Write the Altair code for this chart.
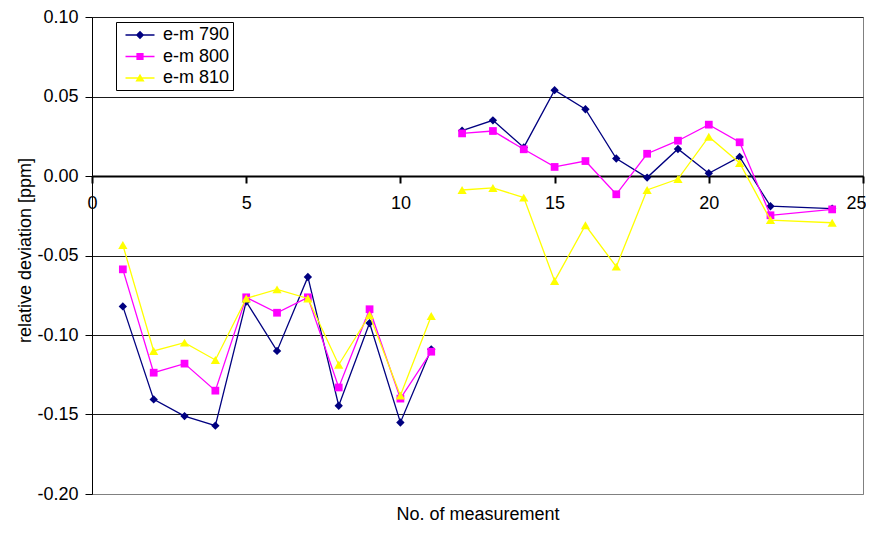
import altair as alt
import pandas as pd

# ---- data ----
measurement = [1, 2, 3, 4, 5, 6, 7, 8, 9, 10, 11, 12, 13, 14, 15, 16, 17, 18, 19, 20, 21, 22, 24]
em790 = [-0.082, -0.1405, -0.151, -0.157, -0.079, -0.110, -0.0635, -0.1445, -0.0925, -0.155, -0.109,
         0.0285, 0.035, 0.018, 0.054, 0.042, 0.011, -0.001, 0.017, 0.0017, 0.012, -0.019, -0.0205]
em800 = [-0.0587, -0.1237, -0.118, -0.135, -0.0763, -0.086, -0.0763, -0.133, -0.0838, -0.140, -0.1105,
         0.0268, 0.0283, 0.0168, 0.0057, 0.0094, -0.0115, 0.014, 0.0222, 0.0323, 0.0212, -0.0247, -0.021]
em810 = [-0.0434, -0.110, -0.1048, -0.1157, -0.077, -0.0713, -0.077, -0.1187, -0.0874, -0.138, -0.088,
         -0.0088, -0.0075, -0.0136, -0.066, -0.031, -0.057, -0.0088, -0.0019, 0.0247, 0.0082, -0.0277, -0.0294]
series_names = ["e-m 790", "e-m 800", "e-m 810"]
series_values = [em790, em800, em810]
series_colors = ["#000080", "#FF00FF", "#FFFF00"]
series_shapes = ["diamond", "square", "triangle-up"]
series_sizes = [70, 60, 85]
x_ticks = [0, 5, 10, 15, 20, 25]
y_ticks = [-0.2, -0.15, -0.1, -0.05, 0.0, 0.05, 0.1]

rows = []
for name, vals in zip(series_names, series_values):
    for m, v in zip(measurement, vals):
        rows.append({"series": name, "measurement": m, "value": v,
                     "segment": 1 if m <= 11 else 2})
df = pd.DataFrame(rows)

FONT = "Liberation Sans"
FS = 18
W, H = 771, 477

x_axis = alt.Axis(values=x_ticks, format="d", offset=-318, domainColor="black", domainWidth=2,
                  tickColor="black", tickWidth=2, tickSize=7, labelPadding=11, labelFlush=False,
                  labelAlign={"condition": {"test": "datum.value >= 25", "value": "right"},
                              "value": "center"},
                  labelOffset={"condition": {"test": "datum.value >= 25", "value": 3},
                               "value": 0},
                  labelFont=FONT, labelFontSize=FS, labelColor="black", grid=False,
                  title="No. of measurement", titleFont=FONT, titleFontSize=FS,
                  titleFontWeight="normal", titleColor="black", titleY=338,
                  titleBaseline="middle")
y_axis = alt.Axis(values=y_ticks, labelExpr="replace(format(datum.value, '.2f'), '\u2212', '-')",
                  domainColor="black", domainWidth=1, tickColor="black", tickSize=7,
                  labelPadding=7, labelFont=FONT, labelFontSize=FS, labelColor="black",
                  grid=True,
                  gridColor={"condition": {"test": "abs(datum.value) > 0.15", "value": "#808080"},
                             "value": "#1a1a1a"},
                  gridWidth=1,
                  title="relative deviation [ppm]", titleFont=FONT, titleFontSize=FS,
                  titleFontWeight="normal", titleColor="black", titleX=-67, titleY=233,
                  titleAlign="center", titleBaseline="middle", titleAngle=270)

x_enc = alt.X("measurement:Q", scale=alt.Scale(domain=[0, 25], nice=False), axis=x_axis)
y_enc = alt.Y("value:Q", scale=alt.Scale(domain=[-0.2, 0.1], nice=False), axis=y_axis)

layers = []
for name, col, shp, sz in zip(series_names, series_colors, series_shapes, series_sizes):
    base = alt.Chart(df).transform_filter(alt.datum.series == name)
    layers.append(base.mark_line(color=col, strokeWidth=1.3).encode(
        x=x_enc, y=y_enc, detail="segment:N"))
    layers.append(base.mark_point(shape=shp, filled=True, size=sz, color=col, opacity=1).encode(
        x=x_enc, y=y_enc))

line_part = "M-1.45,-0.07H1.45V0.07H-1.45Z "
legend_paths = [
    line_part + "M0,-0.42L0.42,0L0,0.42L-0.42,0Z",
    line_part + "M-0.36,-0.36H0.36V0.36H-0.36Z",
    line_part + "M0,-0.42L0.46,0.36H-0.46Z",
]
leg = alt.Legend(orient="none", legendX=24, legendY=5, title=None, symbolSize=400,
                 symbolOffset=11, labelOffset=13, padding=3, rowPadding=2.5,
                 strokeColor="black", fillColor="white", labelFont=FONT, labelFontSize=FS,
                 labelColor="black", symbolStrokeWidth=0, symbolOpacity=1)
legend_layer = alt.Chart(df).transform_filter("false").mark_point(filled=True, opacity=1).encode(
    color=alt.Color("series:N", scale=alt.Scale(domain=series_names, range=series_colors), legend=leg),
    shape=alt.Shape("series:N", scale=alt.Scale(domain=series_names, range=legend_paths), legend=leg),
)
layers.append(legend_layer)

chart = alt.layer(*layers).properties(
    width=W, height=H, autosize="none",
    padding={"left": 84, "top": 9, "right": 3, "bottom": 32},
    background="white",
).configure_view(stroke="#808080", strokeWidth=1)

chart.save("out.html", embed_options={"renderer": "svg", "actions": False})
